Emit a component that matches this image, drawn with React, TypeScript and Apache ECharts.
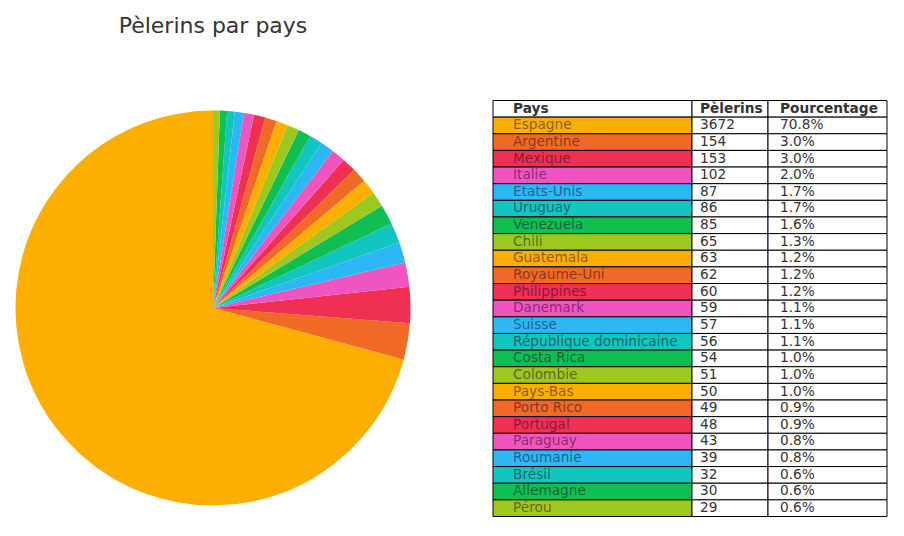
import { useEffect, useRef } from "react";
import * as echarts from "echarts";

// data
const countries = [
  "Espagne", "Argentine", "Mexique", "Italie", "Etats-Unis", "Uruguay",
  "Venezuela", "Chili", "Guatemala", "Royaume-Uni", "Philippines", "Danemark",
  "Suisse", "République dominicaine", "Costa Rica", "Colombie", "Pays-Bas",
  "Porto Rico", "Portugal", "Paraguay", "Roumanie", "Brésil", "Allemagne", "Pérou",
];
const pilgrims = [
  3672, 154, 153, 102, 87, 86, 85, 65, 63, 62, 60, 59, 57, 56, 54, 51, 50, 49,
  48, 43, 39, 32, 30, 29,
];
const percents = [
  "70.8%", "3.0%", "3.0%", "2.0%", "1.7%", "1.7%", "1.6%", "1.3%", "1.2%",
  "1.2%", "1.2%", "1.1%", "1.1%", "1.1%", "1.0%", "1.0%", "1.0%", "0.9%",
  "0.9%", "0.8%", "0.8%", "0.6%", "0.6%", "0.6%",
];
const headers = ["Pays", "Pèlerins", "Pourcentage"];

const palette = [
  "#fcaf00", "#f06a25", "#ef3052", "#ef55c0",
  "#2cb8f5", "#12c6c0", "#10bf52", "#9dc820",
];

const FONT = "DejaVu Sans";

// table layout
const tableTop = 100.5;
const rowH = 16.64;
const colX = [493, 692, 768, 887];
const textPad = [20, 8, 12];

function buildTable() {
  const els: any[] = [];
  const rows = [headers, ...countries.map((c, i) => [c, String(pilgrims[i]), percents[i]])];
  rows.forEach((row, r) => {
    const y = tableTop + r * rowH;
    row.forEach((cell, c) => {
      const fill = r > 0 && c === 0 ? palette[(r - 1) % palette.length] : "#fff";
      els.push({
        type: "rect",
        shape: { x: colX[c], y, width: colX[c + 1] - colX[c], height: rowH },
        style: { fill, stroke: "#000", lineWidth: 1 },
        z: 1,
      });
      els.push({
        type: "text",
        x: colX[c] + textPad[c],
        y: y + rowH / 2 - 1.2,
        style: {
          text: cell,
          fontFamily: FONT,
          fontSize: 13.7,
          fontWeight: r === 0 ? "bold" : "normal",
          fill: r > 0 && c === 0 ? "rgba(30,0,40,0.5)" : "#333",
          textAlign: "left",
          textVerticalAlign: "middle",
        },
        z: 2,
      });
    });
  });
  return els;
}

export default function App() {
  const ref = useRef<HTMLDivElement>(null);

  useEffect(() => {
    if (!ref.current) return;
    const chart = echarts.init(ref.current, null, { renderer: "svg" });
    chart.setOption({
      animation: false,
      backgroundColor: "#fff",
      title: {
        text: "Pèlerins par pays",
        left: 208,
        top: 9,
        textAlign: "center",
        textStyle: { fontFamily: FONT, fontSize: 22, fontWeight: "normal", color: "#333" },
      },
      color: palette,
      series: [
        {
          type: "pie",
          center: [213, 308],
          radius: 197.5,
          startAngle: 90,
          clockwise: false,
          label: { show: false },
          labelLine: { show: false },
          itemStyle: { borderWidth: 0 },
          emphasis: { disabled: true },
          data: countries.map((name, i) => ({ name, value: pilgrims[i] })),
        },
      ],
      graphic: buildTable(),
    });
    return () => chart.dispose();
  }, []);

  return (
    <div
      ref={ref}
      style={{ position: "absolute", left: 0, top: 0, width: 904, height: 536 }}
    />
  );
}
